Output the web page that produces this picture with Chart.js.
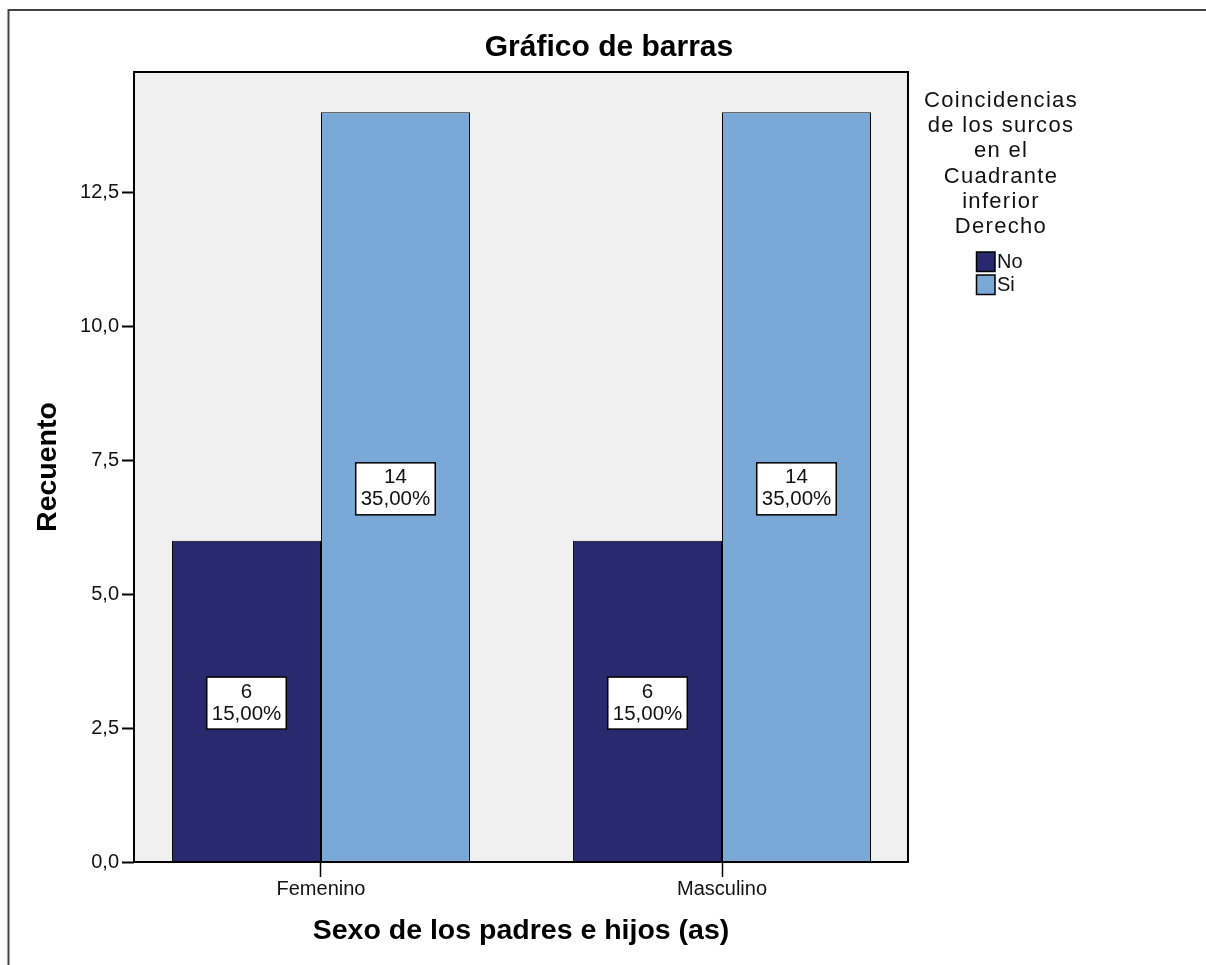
<!DOCTYPE html>
<html>
<head>
<meta charset="utf-8">
<title>Gráfico de barras</title>
<script src="https://cdn.jsdelivr.net/npm/chart.js@4.4.1/dist/chart.umd.min.js"></script>
<style>
  html, body { margin: 0; padding: 0; background: #fff; }
  canvas { display: block; }
</style>
</head>
<body>
<canvas id="barras" width="1206" height="965"></canvas>
<script>

/* ===== datos ===== */

const categorias = ["Femenino", "Masculino"]

const series = ["No", "Si"]

const recuentoNo = [6, 6]

const recuentoSi = [14, 14]

const ticksY = [0, 2.5, 5, 7.5, 10, 12.5]

const tituloLeyenda = [
  "Coincidencias",
  "de los surcos",
  "en el",
  "Cuadrante",
  "inferior",
  "Derecho"
]

const colores = ["#29296f", "#7aa9d7"]

const total =
  recuentoNo.reduce((a, b) => a + b, 0) +
  recuentoSi.reduce((a, b) => a + b, 0)

const coma = (n, d) => n.toFixed(d).replace(".", ",")

const FUENTE = "'Liberation Sans', Arial, sans-serif"


/* ===== fondo, marco, etiquetas y leyenda ===== */

const decorado = {

  id: "decorado",

  beforeDatasetsDraw(chart) {
    const { ctx, chartArea: a } = chart
    ctx.save()
    ctx.fillStyle = "#f0f0f0"
    ctx.fillRect(a.left, a.top, a.right - a.left, a.bottom - a.top)
    ctx.restore()
  },

  afterDatasetsDraw(chart) {
    const { ctx, chartArea: a } = chart
    ctx.save()

    // marco del área de trazado
    ctx.strokeStyle = "#000"
    ctx.lineWidth = 2
    ctx.strokeRect(a.left, a.top, a.right - a.left, a.bottom - a.top)

    // cajas con recuento y porcentaje
    ctx.font = "20.5px " + FUENTE
    ctx.textAlign = "center"
    ctx.textBaseline = "middle"

    chart.data.datasets.forEach((ds, d) => {
      chart.getDatasetMeta(d).data.forEach((bar, i) => {
        const v = ds.data[i].y
        const l1 = String(v)
        const l2 = coma(v / total * 100, 2) + "%"
        const w = Math.max(ctx.measureText(l1).width, ctx.measureText(l2).width) + 10
        const h = 52
        const cx = bar.x
        const cy = (bar.y + bar.base) / 2 + 2

        ctx.fillStyle = "#fff"
        ctx.fillRect(cx - w / 2, cy - h / 2, w, h)
        ctx.lineWidth = 1.5
        ctx.strokeStyle = "#000"
        ctx.strokeRect(cx - w / 2, cy - h / 2, w, h)

        ctx.fillStyle = "#111"
        ctx.fillText(l1, cx, cy - 11)
        ctx.fillText(l2, cx, cy + 11)
      })
    })

    ctx.restore()
  },

  afterDraw(chart) {
    const { ctx } = chart
    ctx.save()

    // borde exterior
    ctx.strokeStyle = "#444"
    ctx.lineWidth = 2
    ctx.beginPath()
    ctx.moveTo(8.5, 965)
    ctx.lineTo(8.5, 10)
    ctx.lineTo(1206, 10)
    ctx.stroke()

    // título
    ctx.fillStyle = "#000"
    ctx.font = "bold 30px " + FUENTE
    ctx.textAlign = "center"
    ctx.textBaseline = "middle"
    ctx.fillText("Gráfico de barras", 609, 48)

    // título de la leyenda
    ctx.font = "22px " + FUENTE
    ctx.letterSpacing = "1.3px"
    ctx.textBaseline = "alphabetic"
    ctx.fillStyle = "#111"
    tituloLeyenda.forEach((t, i) => {
      ctx.fillText(t, 1001, 107 + i * 25.2)
    })
    ctx.letterSpacing = "0px"

    // elementos de la leyenda
    ctx.font = "20px " + FUENTE
    ctx.textAlign = "left"
    ctx.textBaseline = "middle"
    chart.data.datasets.forEach((ds, i) => {
      const y = 252 + i * 23
      ctx.fillStyle = ds.backgroundColor
      ctx.fillRect(976.5, y, 18.5, 19.5)
      ctx.strokeStyle = "#000"
      ctx.lineWidth = 1.5
      ctx.strokeRect(976.5, y, 18.5, 19.5)
      ctx.fillStyle = "#111"
      ctx.fillText(ds.label, 997, y + 10)
    })

    ctx.restore()
  }

}


/* ===== gráfico ===== */

const ctx = document.getElementById("barras").getContext("2d")

new Chart(ctx, {

  type: "bar",

  data: {
    datasets: [
      {
        label: series[0],
        data: recuentoNo.map((y, i) => ({ x: i, y })),
        backgroundColor: colores[0],
        borderColor: "#000",
        borderWidth: 1
      },
      {
        label: series[1],
        data: recuentoSi.map((y, i) => ({ x: i, y })),
        backgroundColor: colores[1],
        borderColor: "#000",
        borderWidth: 1
      }
    ]
  },

  options: {

    responsive: false,
    animation: false,

    categoryPercentage: 0.743,
    barPercentage: 1,

    layout: {
      padding: { left: 0, top: 72, right: 298, bottom: 0 }
    },

    plugins: {
      legend: { display: false },
      title: { display: false },
      tooltip: { enabled: false }
    },

    scales: {

      x: {
        type: "linear",
        offset: false,
        min: -0.4663,
        max: 1.4638,
        afterFit(scale) {
          scale.height = 103
        },
        afterBuildTicks(scale) {
          scale.ticks = categorias.map((c, i) => ({ value: i }))
        },
        grid: {
          offset: false,
          drawOnChartArea: false,
          drawTicks: true,
          tickLength: 15,
          tickColor: "#000",
          tickWidth: 1.5
        },
        border: { display: false },
        ticks: {
          padding: 0,
          color: "#111",
          font: { family: FUENTE, size: 20 },
          callback: (v) => categorias[v]
        },
        title: {
          display: true,
          text: "Sexo de los padres e hijos (as)",
          color: "#000",
          font: { family: FUENTE, size: 28.5, weight: "bold" },
          padding: { top: 0, bottom: 17 }
        }
      },

      y: {
        min: 0,
        max: 14.75,
        afterFit(scale) {
          scale.width = 134
        },
        afterBuildTicks(scale) {
          scale.ticks = ticksY.map((v) => ({ value: v }))
        },
        grid: {
          drawOnChartArea: false,
          drawTicks: true,
          tickLength: 12,
          tickColor: "#000",
          tickWidth: 2
        },
        border: { display: false },
        ticks: {
          padding: 3,
          color: "#111",
          font: { family: FUENTE, size: 20 },
          callback: (v) => coma(v, 1)
        },
        title: {
          display: true,
          text: "Recuento",
          color: "#000",
          font: { family: FUENTE, size: 28.5, weight: "bold" },
          padding: { top: 31, bottom: 0 }
        }
      }

    }

  },

  plugins: [decorado]

})

</script>
</body>
</html>
